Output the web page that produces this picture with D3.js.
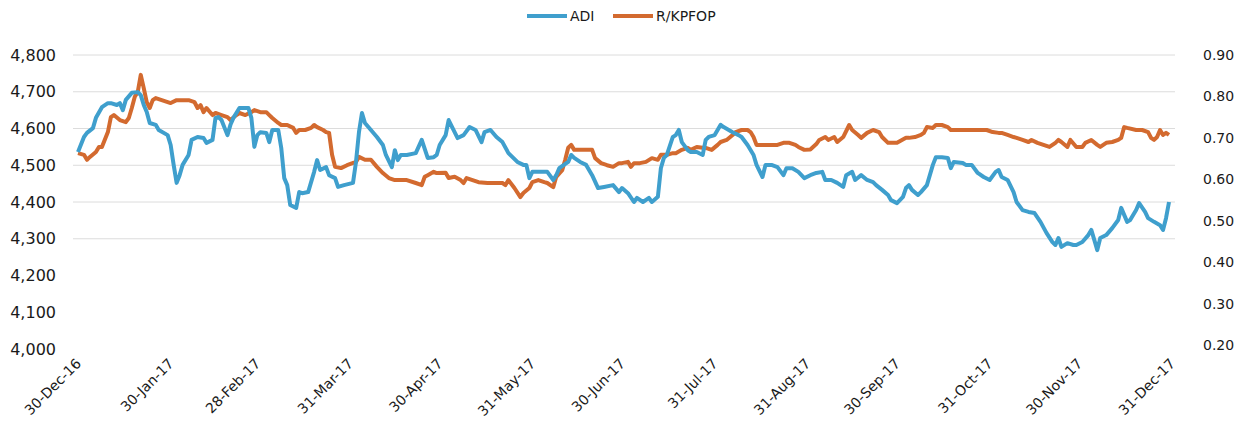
<!DOCTYPE html>
<html>
<head>
<meta charset="utf-8">
<script src="https://cdn.jsdelivr.net/npm/d3@7"></script>
<style>
  body { margin: 0; background: #fff; }
  svg text { font-family: "DejaVu Sans", sans-serif; fill: #1a1a1a; }
</style>
</head>
<body>
<svg id="chart" width="1241" height="425"></svg>
<script>
// days after 30-Dec-16
var adiDays = [0,2,3,5,6,8,10,11,13,14,15,16,18,20,21,22,23,24,26,27,30,31,32,33,34,35,37,38,40,42,43,45,46,47,48,50,51,52,54,55,57,58,59,60,61,63,64,65,67,68,69,70,71,73,74,75,77,79,80,81,83,84,86,87,89,92,93,94,95,96,98,100,102,103,105,106,107,108,110,113,115,117,119,120,121,123,124,127,129,131,133,135,136,138,140,142,144,147,149,150,151,152,154,157,159,160,161,164,165,166,168,170,172,174,176,179,181,182,184,186,187,189,191,192,194,195,196,197,199,200,201,202,204,205,207,209,210,211,213,215,216,219,221,222,224,226,227,229,230,232,234,236,237,239,241,243,245,247,249,250,252,254,256,257,259,260,262,264,266,267,269,271,272,274,276,277,278,279,281,282,284,286,287,289,291,292,293,296,297,299,301,303,305,307,308,309,311,313,314,316,318,320,322,324,326,327,328,329,331,333,334,336,338,339,340,341,342,344,346,348,349,351,352,354,355,357,358,360,362,363,364,365];
var adiVals = [4536,4577,4588,4601,4629,4658,4669,4669,4664,4669,4650,4678,4697,4699,4691,4664,4645,4615,4610,4596,4582,4555,4501,4452,4473,4501,4528,4569,4577,4574,4561,4569,4629,4631,4623,4582,4610,4629,4656,4656,4656,4629,4550,4582,4590,4588,4563,4596,4596,4547,4465,4446,4392,4384,4427,4424,4427,4482,4514,4487,4495,4473,4465,4441,4446,4452,4509,4590,4642,4615,4596,4577,4555,4528,4495,4541,4514,4528,4528,4533,4569,4520,4522,4528,4555,4582,4623,4574,4582,4604,4596,4563,4590,4596,4577,4563,4533,4509,4501,4501,4465,4482,4482,4482,4460,4473,4492,4509,4528,4520,4509,4501,4473,4438,4441,4446,4427,4438,4424,4400,4411,4400,4411,4400,4414,4492,4520,4528,4577,4582,4596,4563,4541,4536,4536,4528,4569,4577,4582,4610,4604,4590,4582,4577,4555,4528,4501,4468,4501,4501,4495,4473,4492,4492,4482,4465,4473,4479,4482,4460,4460,4452,4441,4473,4482,4460,4473,4460,4454,4446,4433,4419,4405,4397,4414,4438,4446,4433,4419,4427,4446,4501,4522,4522,4520,4492,4509,4506,4501,4501,4479,4468,4460,4482,4487,4468,4460,4427,4400,4378,4373,4370,4346,4316,4291,4283,4302,4278,4288,4283,4283,4291,4310,4324,4297,4269,4302,4310,4329,4351,4384,4346,4351,4378,4397,4373,4356,4346,4337,4324,4356,4400];

var kpDays = [0,2,3,4,6,7,8,10,11,12,14,16,17,18,19,20,21,22,23,24,25,26,28,31,33,35,37,39,40,41,42,43,45,46,48,50,51,53,54,56,58,59,61,63,64,65,67,68,70,72,73,74,76,78,79,80,82,83,84,85,86,88,90,93,94,96,98,100,102,104,106,108,110,113,115,116,117,119,120,123,124,126,128,129,130,132,134,137,139,142,143,144,146,148,149,151,152,154,156,157,159,160,162,163,164,165,166,168,170,172,173,175,177,179,181,182,184,185,186,188,190,192,194,195,197,199,200,202,204,205,207,209,210,212,214,215,217,219,220,222,224,225,226,227,229,232,234,236,238,240,241,243,245,247,248,250,251,253,254,256,258,259,261,262,264,266,268,269,271,272,274,277,278,280,282,283,284,286,287,289,291,292,294,297,301,304,306,308,309,311,313,314,316,318,319,321,323,325,327,328,329,331,332,334,336,337,339,341,342,344,346,348,349,350,351,354,356,358,359,360,361,362,363,364,365];
var kpVals = [0.663,0.659,0.647,0.654,0.666,0.678,0.678,0.714,0.750,0.755,0.743,0.738,0.748,0.772,0.799,0.811,0.852,0.820,0.786,0.772,0.791,0.796,0.791,0.784,0.791,0.791,0.791,0.786,0.772,0.779,0.762,0.772,0.755,0.760,0.755,0.750,0.743,0.755,0.760,0.755,0.762,0.767,0.762,0.762,0.755,0.748,0.736,0.731,0.731,0.724,0.712,0.719,0.719,0.724,0.731,0.726,0.719,0.714,0.712,0.659,0.630,0.627,0.634,0.642,0.654,0.647,0.647,0.630,0.615,0.603,0.598,0.598,0.598,0.591,0.586,0.606,0.610,0.618,0.615,0.616,0.603,0.606,0.598,0.591,0.603,0.598,0.593,0.591,0.591,0.591,0.586,0.598,0.579,0.557,0.567,0.579,0.593,0.598,0.593,0.591,0.581,0.606,0.622,0.647,0.676,0.683,0.671,0.671,0.671,0.671,0.651,0.639,0.634,0.630,0.639,0.639,0.642,0.630,0.639,0.639,0.642,0.651,0.647,0.659,0.659,0.663,0.663,0.671,0.676,0.671,0.678,0.676,0.676,0.671,0.683,0.690,0.695,0.707,0.714,0.719,0.719,0.714,0.702,0.683,0.683,0.683,0.683,0.688,0.688,0.683,0.678,0.671,0.672,0.685,0.695,0.702,0.695,0.702,0.690,0.702,0.731,0.719,0.707,0.700,0.712,0.719,0.714,0.702,0.688,0.688,0.688,0.700,0.700,0.702,0.707,0.712,0.726,0.724,0.731,0.731,0.726,0.719,0.719,0.719,0.719,0.719,0.714,0.712,0.712,0.707,0.702,0.700,0.695,0.690,0.695,0.688,0.683,0.678,0.688,0.695,0.690,0.678,0.695,0.678,0.678,0.688,0.695,0.683,0.678,0.688,0.690,0.695,0.700,0.726,0.724,0.719,0.719,0.714,0.700,0.695,0.702,0.719,0.707,0.712,0.707];

var xTickDates = ["2016-12-30","2017-01-30","2017-02-28","2017-03-31","2017-04-30","2017-05-31","2017-06-30","2017-07-31","2017-08-31","2017-09-30","2017-10-31","2017-11-30","2017-12-31"];
var leftTicks = [4000,4100,4200,4300,4400,4500,4600,4700,4800];
var rightTicks = [0.20,0.30,0.40,0.50,0.60,0.70,0.80,0.90];
var gridTicks = [4300,4400,4500,4600,4700,4800];
var seriesNames = ["ADI","R/KPFOP"];
var seriesColors = ["#3f9fcd","#d36a2f"];

var parse = d3.timeParse("%Y-%m-%d");
var start = parse("2016-12-30");
var adi = adiDays.map(function(d,i){ return {date: d3.timeDay.offset(start,d), v: adiVals[i]}; });
var kp = kpDays.map(function(d,i){ return {date: d3.timeDay.offset(start,d), v: kpVals[i]}; });

var svg = d3.select("#chart");

var x = d3.scaleTime().domain([start, parse("2017-12-31")]).range([78,1172]);
var yL = d3.scaleLinear().domain([4000,4800]).range([349,55]);
var yR = d3.scaleLinear().domain([0.2,0.9]).range([345,55]);

// gridlines
svg.append("g").selectAll("line")
    .data(gridTicks)
    .enter().append("line")
    .attr("x1",73).attr("x2",1175)
    .attr("y1",function(d){ return yL(d); })
    .attr("y2",function(d){ return yL(d); })
    .attr("stroke","#dcdcdc")
    .attr("stroke-width",1);

// left axis
var gl = svg.append("g").attr("transform","translate(56,0)")
    .call(d3.axisLeft(yL).tickValues(leftTicks).tickFormat(d3.format(",")).tickSize(0).tickPadding(0));
gl.select(".domain").remove();
gl.selectAll("text").style("font-size","16px").attr("fill","#1a1a1a");

// right axis
var gr = svg.append("g").attr("transform","translate(1203,0)")
    .call(d3.axisRight(yR).tickValues(rightTicks).tickFormat(d3.format(".2f")).tickSize(0).tickPadding(0));
gr.select(".domain").remove();
gr.selectAll("text").style("font-size","14px").attr("fill","#1a1a1a");

// bottom axis, rotated labels
var gb = svg.append("g").attr("transform","translate(0,361)")
    .call(d3.axisBottom(x).tickValues(xTickDates.map(parse)).tickFormat(d3.timeFormat("%d-%b-%y")).tickSize(0));
gb.select(".domain").remove();
gb.selectAll("text")
    .style("font-size","14px")
    .attr("fill","#1a1a1a")
    .attr("text-anchor","end")
    .attr("x",0).attr("y",0).attr("dy","0.35em")
    .attr("transform","rotate(-45)");

// lines
var lineL = d3.line().x(function(d){ return x(d.date); }).y(function(d){ return yL(d.v); });
var lineR = d3.line().x(function(d){ return x(d.date); }).y(function(d){ return yR(d.v); });

svg.append("path").datum(kp)
    .attr("fill","none").attr("stroke",seriesColors[1]).attr("stroke-width",4)
    .attr("stroke-linejoin","round").attr("d",lineR);
svg.append("path").datum(adi)
    .attr("fill","none").attr("stroke",seriesColors[0]).attr("stroke-width",4)
    .attr("stroke-linejoin","round").attr("d",lineL);

// legend
var leg = svg.append("g").attr("transform","translate(527,16)");
var legX = [0,86];
seriesNames.forEach(function(name,i){
    var g = leg.append("g").attr("transform","translate("+legX[i]+",0)");
    g.append("line").attr("x1",0).attr("x2",40).attr("y1",0).attr("y2",0)
        .attr("stroke",seriesColors[i]).attr("stroke-width",4);
    g.append("text").attr("x",43).attr("y",0).attr("dy","0.35em")
        .style("font-size","14px").attr("fill","#1a1a1a").text(name);
});
</script>
</body>
</html>
